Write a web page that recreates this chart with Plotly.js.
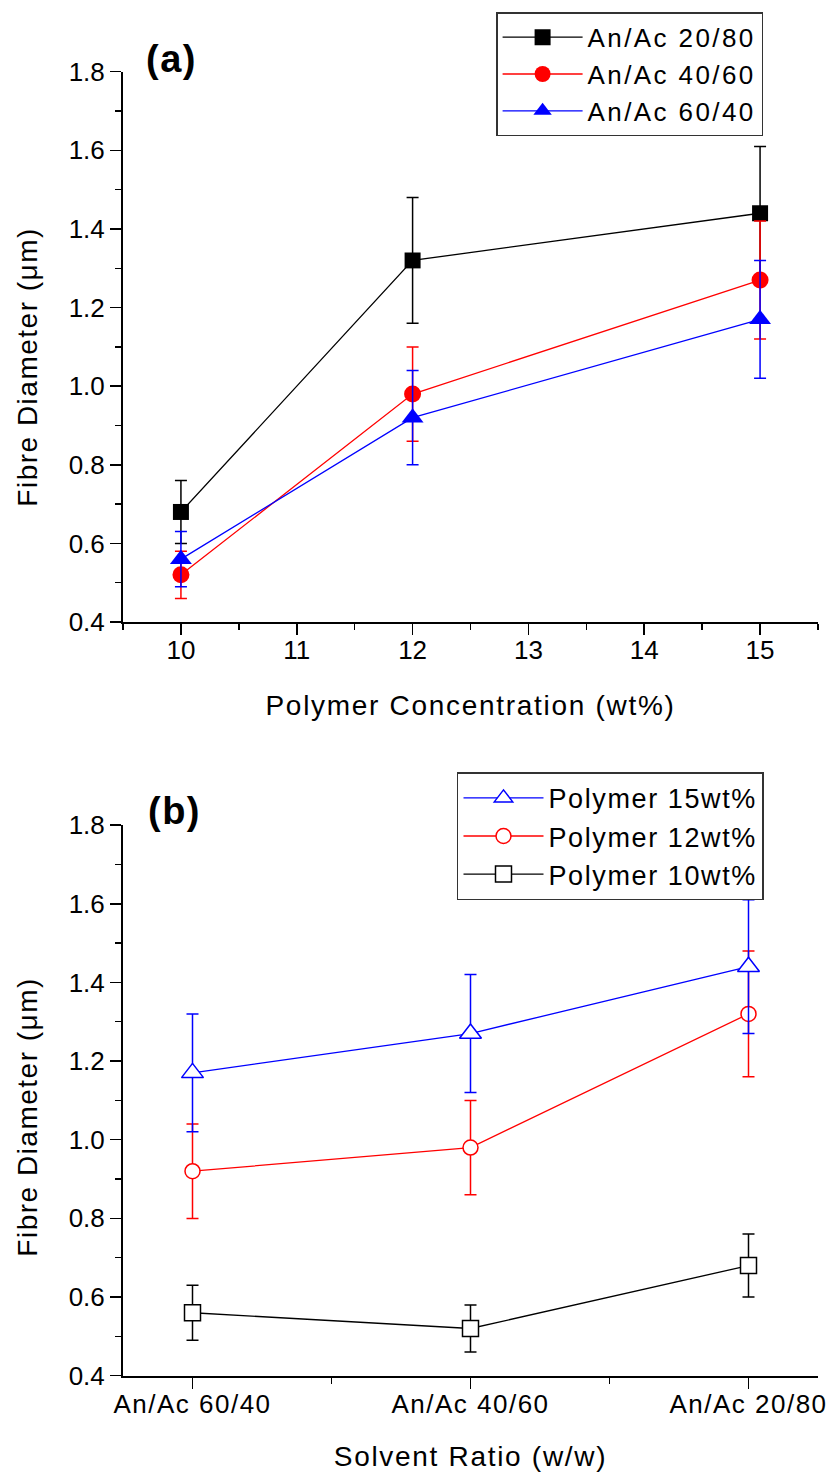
<!DOCTYPE html>
<html>
<head>
<meta charset="utf-8">
<script src="https://cdn.plot.ly/plotly-3.0.1.min.js"></script>
<style>
html,body{margin:0;padding:0;background:#fff;}
.xtitle, .x2title { letter-spacing: 1.7px; }
.annotation-text { letter-spacing: 1.5px; }
text.legendtext { letter-spacing: 2.4px; }
text.legend2text { letter-spacing: 1.6px; }
.x2tick text { letter-spacing: 1.5px; }
</style>
</head>
<body>
<div id="chart" style="width:833px;height:1472px;"></div>
<script>
// Panel (a): fibre diameter vs polymer concentration
const concentration = [10, 12, 15];
const ac2080 = [0.68, 1.32, 1.44];
const ac2080Err = [0.08, 0.16, 0.17];
const ac4060 = [0.52, 0.98, 1.27];
const ac4060Err = [0.06, 0.12, 0.15];
const ac6040 = [0.56, 0.92, 1.17];
const ac6040Err = [0.07, 0.12, 0.15];

// Panel (b): fibre diameter vs solvent ratio
const ratios = ['An/Ac 60/40', 'An/Ac 40/60', 'An/Ac 20/80'];
const poly15 = [1.17, 1.27, 1.44];
const poly15Err = [0.15, 0.15, 0.17];
const poly12 = [0.92, 0.98, 1.32];
const poly12Err = [0.12, 0.12, 0.16];
const poly10 = [0.56, 0.52, 0.68];
const poly10Err = [0.07, 0.06, 0.08];

const FONT = 'Arial, "Liberation Sans", sans-serif';
const ratioIdx = ratios.map((_, i) => i);

function tr(x, y, err, name, color, symbol, size, fill, xa, ya, leg) {
  return {
    x: x, y: y, name: name, type: 'scatter', mode: 'lines+markers',
    xaxis: xa, yaxis: ya, legend: leg,
    line: {color: color, width: 1.3},
    marker: {symbol: symbol, size: size, color: fill, line: {color: color, width: fill === 'white' ? 1.5 : 0}},
    error_y: {type: 'data', array: err, visible: true, color: color, thickness: 1.5, width: 6}
  };
}

const data = [
  tr(concentration, ac2080, ac2080Err, 'An/Ac 20/80', '#000000', 'square', 16, '#000000', 'x', 'y', 'legend'),
  tr(concentration, ac4060, ac4060Err, 'An/Ac 40/60', '#ff0000', 'circle', 17, '#ff0000', 'x', 'y', 'legend'),
  tr(concentration, ac6040, ac6040Err, 'An/Ac 60/40', '#0000ff', 'triangle-up', 19, '#0000ff', 'x', 'y', 'legend'),
  tr(ratioIdx, poly10, poly10Err, 'Polymer 10wt%', '#000000', 'square', 16, 'white', 'x2', 'y2', 'legend2'),
  tr(ratioIdx, poly12, poly12Err, 'Polymer 12wt%', '#ff0000', 'circle', 15, 'white', 'x2', 'y2', 'legend2'),
  tr(ratioIdx, poly15, poly15Err, 'Polymer 15wt%', '#0000ff', 'triangle-up', 19, 'white', 'x2', 'y2', 'legend2')
];

const axCommon = {
  showline: true, linewidth: 2, linecolor: '#000', mirror: false,
  showgrid: false, zeroline: false,
  ticks: 'outside', ticklen: 11, tickwidth: 1.5, tickcolor: '#000',
  tickfont: {family: FONT, size: 26, color: '#000'}
};
const yCommon = Object.assign({}, axCommon, {
  range: [0.3999, 1.8001], tick0: 0.4, dtick: 0.2, tickformat: '.1f',
  minor: {dtick: 0.1, tick0: 0.4, ticks: 'outside', ticklen: 6, tickwidth: 1.5, tickcolor: '#000', showgrid: false}
});
const titleFont = {family: FONT, size: 28, color: '#000'};

const layout = {
  width: 833, height: 1472,
  margin: {l: 123, r: 15, t: 0, b: 0},
  paper_bgcolor: '#fff', plot_bgcolor: '#fff',
  font: {family: FONT, color: '#000'},
  xaxis: Object.assign({}, axCommon, {
    domain: [0, 1], anchor: 'y',
    range: [9.4999, 15.5001], tick0: 10, dtick: 1, ticklabelstandoff: -7,
    minor: {dtick: 0.5, tick0: 10, ticks: 'outside', ticklen: 6, tickwidth: 1.5, tickcolor: '#000', showgrid: false},
    title: {text: 'Polymer Concentration (wt%)', font: titleFont, standoff: 31}
  }),
  yaxis: Object.assign({}, yCommon, {domain: [0.5774, 0.9513], anchor: 'x'}),
  xaxis2: Object.assign({}, axCommon, {
    domain: [0, 1], anchor: 'y2',
    range: [-0.25, 2.25], tickmode: 'array', tickvals: ratioIdx, ticktext: ratios, ticklabelstandoff: -7,
    minor: {tickmode: 'linear', tick0: 0, dtick: 0.5, ticks: 'outside', ticklen: 6, tickwidth: 1.5, tickcolor: '#000', showgrid: false},
    title: {text: 'Solvent Ratio (w/w)', font: titleFont, standoff: 31}
  }),
  yaxis2: Object.assign({}, yCommon, {domain: [0.0654, 0.4395], anchor: 'x2'}),
  legend: {
    x: 0.921, y: 0.99164, xanchor: 'right', yanchor: 'top',
    bgcolor: '#fff', bordercolor: '#333', borderwidth: 1.5,
    font: {family: FONT, size: 26, color: '#000'}, itemwidth: 80, tracegroupgap: 0
  },
  legend2: {
    x: 0.9223, y: 0.4753, xanchor: 'right', yanchor: 'top',
    bgcolor: '#fff', bordercolor: '#333', borderwidth: 1.5, traceorder: 'reversed',
    font: {family: FONT, size: 27, color: '#000'}, itemwidth: 80, tracegroupgap: 0
  },
  showlegend: true,
  annotations: [
    {text: '<b>(a)</b>', xref: 'paper', yref: 'paper', x: 0.0705, y: 0.9599, xanchor: 'center', yanchor: 'middle', showarrow: false, font: {family: FONT, size: 38, color: '#000'}},
    {text: '<b>(b)</b>', xref: 'paper', yref: 'paper', x: 0.0734, y: 0.449, xanchor: 'center', yanchor: 'middle', showarrow: false, font: {family: FONT, size: 38, color: '#000'}},
    {text: 'Fibre Diameter (μm)', xref: 'paper', yref: 'paper', x: -0.1367, y: 0.7509, xanchor: 'center', yanchor: 'middle', textangle: -90, showarrow: false, font: titleFont},
    {text: 'Fibre Diameter (μm)', xref: 'paper', yref: 'paper', x: -0.1367, y: 0.2414, xanchor: 'center', yanchor: 'middle', textangle: -90, showarrow: false, font: titleFont}
  ]
};

Plotly.newPlot('chart', data, layout, {displayModeBar: false, staticPlot: true});
</script>
</body>
</html>
